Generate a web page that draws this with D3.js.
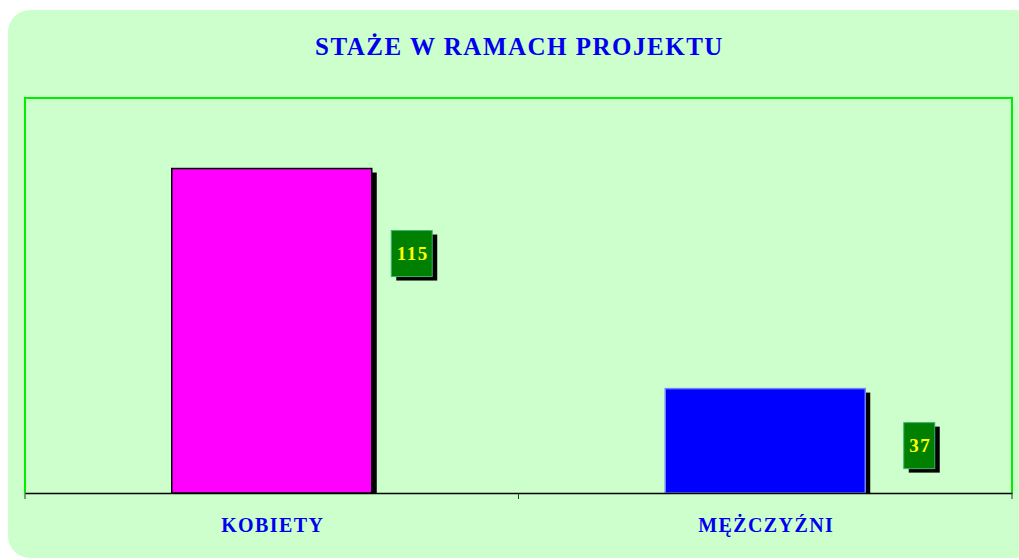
<!DOCTYPE html>
<html>
<head>
<meta charset="utf-8">
<script src="https://cdn.jsdelivr.net/npm/d3@7"></script>
<style>
  body { margin: 0; background: #ffffff; }
  text { font-family: "Liberation Serif", "DejaVu Serif", serif; font-weight: bold; }
</style>
</head>
<body>
<div id="chart"></div>
<script>
// data
var categories = ["KOBIETY", "MĘŻCZYŹNI"];
var values = [115, 37];
var barColors = ["#ff00ff", "#0000ff"];
var barStrokes = ["#000000", "#7080ff"];
var chartTitle = "STAŻE W RAMACH PROJEKTU";

// layout
var W = 1019, H = 560;
var plot = {left: 25, right: 1012, top: 98, bottom: 493};
// label offsets from bar right edge / bar top (px)
var labelDx = [40, 54], labelDy = [85, 57];

var svg = d3.select("#chart").append("svg")
    .attr("width", W).attr("height", H);

// panel
svg.append("rect")
    .attr("x", 8).attr("y", 10)
    .attr("width", 1030).attr("height", 548)
    .attr("rx", 22).attr("ry", 22)
    .attr("fill", "#ccffcc");

// title
svg.append("text")
    .attr("x", (plot.left + plot.right) / 2 + 1).attr("y", 55)
    .attr("text-anchor", "middle")
    .attr("fill", "#0000ee")
    .style("font-size", "25px")
    .style("letter-spacing", "1.5px")
    .text(chartTitle);

var xScale = d3.scaleBand().domain(categories).range([plot.left, plot.right]).paddingInner(0).paddingOuter(0);
var yScale = d3.scaleLinear().domain([0, 140]).range([plot.bottom, plot.top]);
var barW = 200;

// plot frame
svg.append("path")
    .attr("d", "M" + plot.left + "," + plot.bottom + "V" + plot.top + "H" + plot.right + "V" + plot.bottom)
    .attr("fill", "none")
    .attr("stroke", "#00ee00")
    .attr("stroke-width", 2);

var g = svg.append("g");

var bars = g.selectAll(".bar").data(values).enter().append("g").attr("class", "bar");

// shadow
bars.append("rect")
    .attr("x", function(d, i) { return xScale(categories[i]) + xScale.bandwidth() / 2 - barW / 2 + 5; })
    .attr("y", function(d) { return yScale(d) + 4; })
    .attr("width", barW)
    .attr("height", function(d) { return plot.bottom - yScale(d) - 4; })
    .attr("fill", "#000");

bars.append("rect")
    .attr("x", function(d, i) { return xScale(categories[i]) + xScale.bandwidth() / 2 - barW / 2; })
    .attr("y", function(d) { return yScale(d); })
    .attr("width", barW)
    .attr("height", function(d) { return plot.bottom - yScale(d); })
    .attr("fill", function(d, i) { return barColors[i]; })
    .attr("stroke", function(d, i) { return barStrokes[i]; })
    .attr("stroke-width", 1.5);

// x axis
var xAxis = d3.axisBottom(xScale).tickSize(0).tickFormat("");
svg.append("g").attr("transform", "translate(0," + plot.bottom + ")").call(xAxis)
    .select(".domain").attr("stroke", "#000").attr("stroke-width", 1.5);
// category dividers (ticks between bands)
svg.append("g").selectAll("line")
    .data(d3.range(categories.length + 1))
    .enter().append("line")
    .attr("x1", function(i) { return plot.left + i * xScale.bandwidth(); })
    .attr("x2", function(i) { return plot.left + i * xScale.bandwidth(); })
    .attr("y1", plot.bottom).attr("y2", plot.bottom + 6)
    .attr("stroke", "#333");

svg.append("g").selectAll("text")
    .data(categories).enter().append("text")
    .attr("x", function(d) { return xScale(d) + xScale.bandwidth() / 2 + 1; })
    .attr("y", 532)
    .attr("text-anchor", "middle")
    .attr("fill", "#0000ee")
    .style("font-size", "20px")
    .style("letter-spacing", "1.4px")
    .text(function(d) { return d; });

// value labels
var labels = g.selectAll(".lbl").data(values).enter().append("g").attr("class", "lbl");
labels.each(function(d, i) {
  var sel = d3.select(this);
  var cx = xScale(categories[i]) + xScale.bandwidth() / 2 + barW / 2 + labelDx[i];
  var cy = yScale(d) + labelDy[i];
  var t = sel.append("text")
      .attr("x", cx + 1).attr("y", cy + 6)
      .attr("text-anchor", "middle")
      .attr("fill", "#ffff00")
      .style("font-size", "19px")
      .style("letter-spacing", "1.5px")
      .text(d);
  var bw = t.node().getBBox().width + 9, bh = 46;
  sel.insert("rect", "text")
      .attr("x", cx - bw / 2 + 5).attr("y", cy - bh / 2 + 4)
      .attr("width", bw).attr("height", bh).attr("fill", "#000");
  sel.insert("rect", "text")
      .attr("x", cx - bw / 2).attr("y", cy - bh / 2)
      .attr("width", bw).attr("height", bh)
      .attr("fill", "#008000")
      .attr("stroke", "#3cb371").attr("stroke-width", 1);
});
</script>
</body>
</html>
